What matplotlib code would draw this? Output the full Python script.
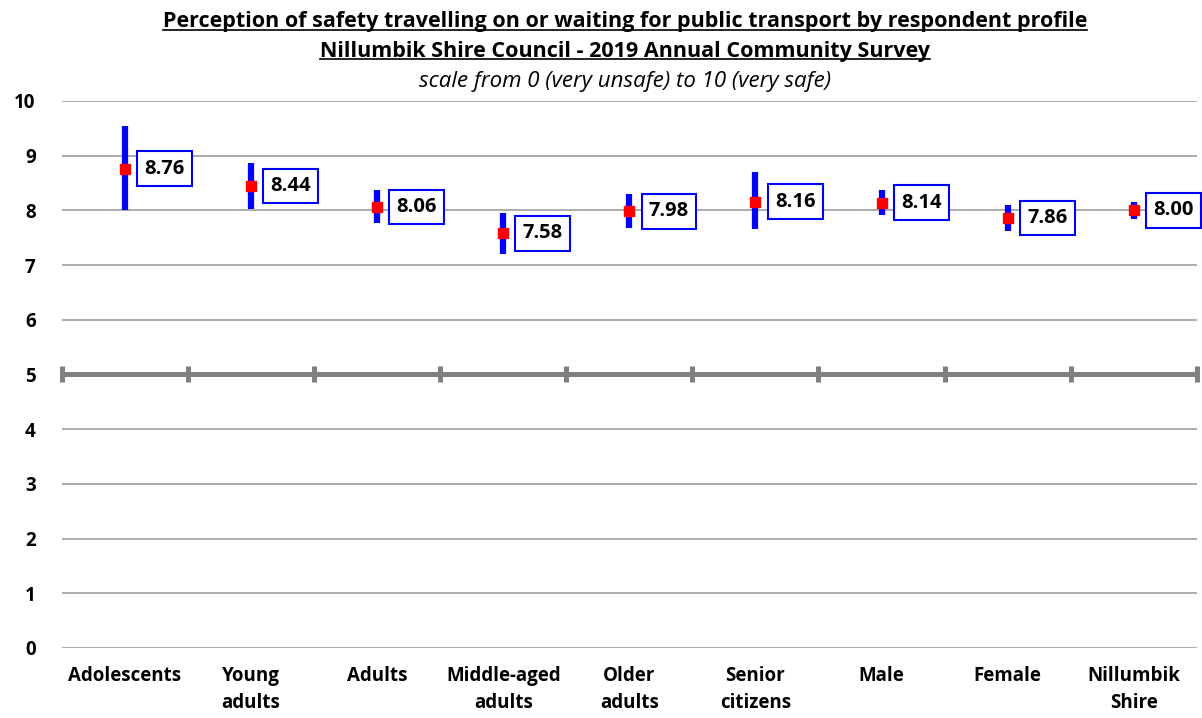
import matplotlib
matplotlib.use("Agg")
import matplotlib.pyplot as plt
import numpy as np
from matplotlib.lines import Line2D

categories = ["Adolescents", "Young\nadults", "Adults", "Middle-aged\nadults", "Older\nadults",
              "Senior\ncitizens", "Male", "Female", "Nillumbik\nShire"]
means = [8.76, 8.44, 8.06, 7.58, 7.98, 8.16, 8.14, 7.86, 8.00]
lower = [8.00, 8.03, 7.77, 7.20, 7.68, 7.66, 7.92, 7.62, 7.85]
upper = [9.54, 8.87, 8.37, 7.95, 8.30, 8.70, 8.37, 8.10, 8.15]
yticks = [0, 1, 2, 3, 4, 5, 6, 7, 8, 9, 10]
midline = 5

title1 = "Perception of safety travelling on or waiting for public transport by respondent profile"
title2 = "Nillumbik Shire Council - 2019 Annual Community Survey"
subtitle = "scale from 0 (very unsafe) to 10 (very safe)"

plt.rcParams['font.family'] = ['Open Sans', 'DejaVu Sans']

fig = plt.figure(figsize=(12.02, 7.18), dpi=100)
ax = fig.add_axes([0.0516, 0.0975, 0.944, 0.762])

x = np.arange(len(categories))
ax.set_xlim(-0.5, len(categories) - 0.5)
ax.set_ylim(0, 10)

# gridlines
for v in yticks:
    ax.axhline(v, color='#a6a6a6', lw=1.3, zorder=1)

for s in ax.spines.values():
    s.set_visible(False)

ax.set_yticks(yticks)
ax.set_yticklabels([str(v) for v in yticks], fontsize=13.5, fontweight='bold')
ax.tick_params(axis='y', length=0, pad=19)

ax.set_xticks(x)
ax.set_xticklabels(categories, fontsize=13.5, fontweight='bold', linespacing=1.45)
ax.tick_params(axis='x', length=0, pad=13)

# category axis crossing at 5
ax.axhline(midline, color='#808080', lw=3.6, zorder=2)
sec = ax.secondary_xaxis(0.5)
sec.set_xticks(np.arange(len(categories) + 1) - 0.5)
sec.set_xticklabels([])
sec.tick_params(axis='x', direction='inout', length=12, width=3.6, color='#808080')
for s in sec.spines.values():
    s.set_visible(False)

# CI bars
ax.vlines(x, lower, upper, colors='#0000ff', lw=4.5, zorder=3)
ax.plot(x, means, linestyle='none', marker='s', markersize=7, color='#ff0000', zorder=4)

for xi, m in zip(x, means):
    ax.annotate(f"{m:.2f}", (xi, m), xytext=(14, 0), textcoords='offset points',
                ha='left', va='center', fontsize=14.5, fontweight='bold',
                bbox=dict(boxstyle='square,pad=0.36', fc='white', ec='#0000ff', lw=1.5),
                zorder=5)

t1 = fig.text(0.52, 1 - 22 / 718, title1, ha='center', va='center', fontsize=15.5, fontweight='bold')
t2 = fig.text(0.52, 1 - 51 / 718, title2, ha='center', va='center', fontsize=15.5, fontweight='bold')
t3 = fig.text(0.52, 1 - 82 / 718, subtitle, ha='center', va='center', fontsize=16, style='italic')

fig.canvas.draw()
r = fig.canvas.get_renderer()
W, H = fig.get_size_inches() * fig.dpi
for t in (t1, t2):
    bb = t.get_window_extent(r)
    y = (bb.y0 + 3) / H
    fig.add_artist(Line2D([bb.x0 / W, bb.x1 / W], [y, y], color='black', lw=1.2,
                          transform=fig.transFigure))

fig.savefig("out.png", dpi=100)
